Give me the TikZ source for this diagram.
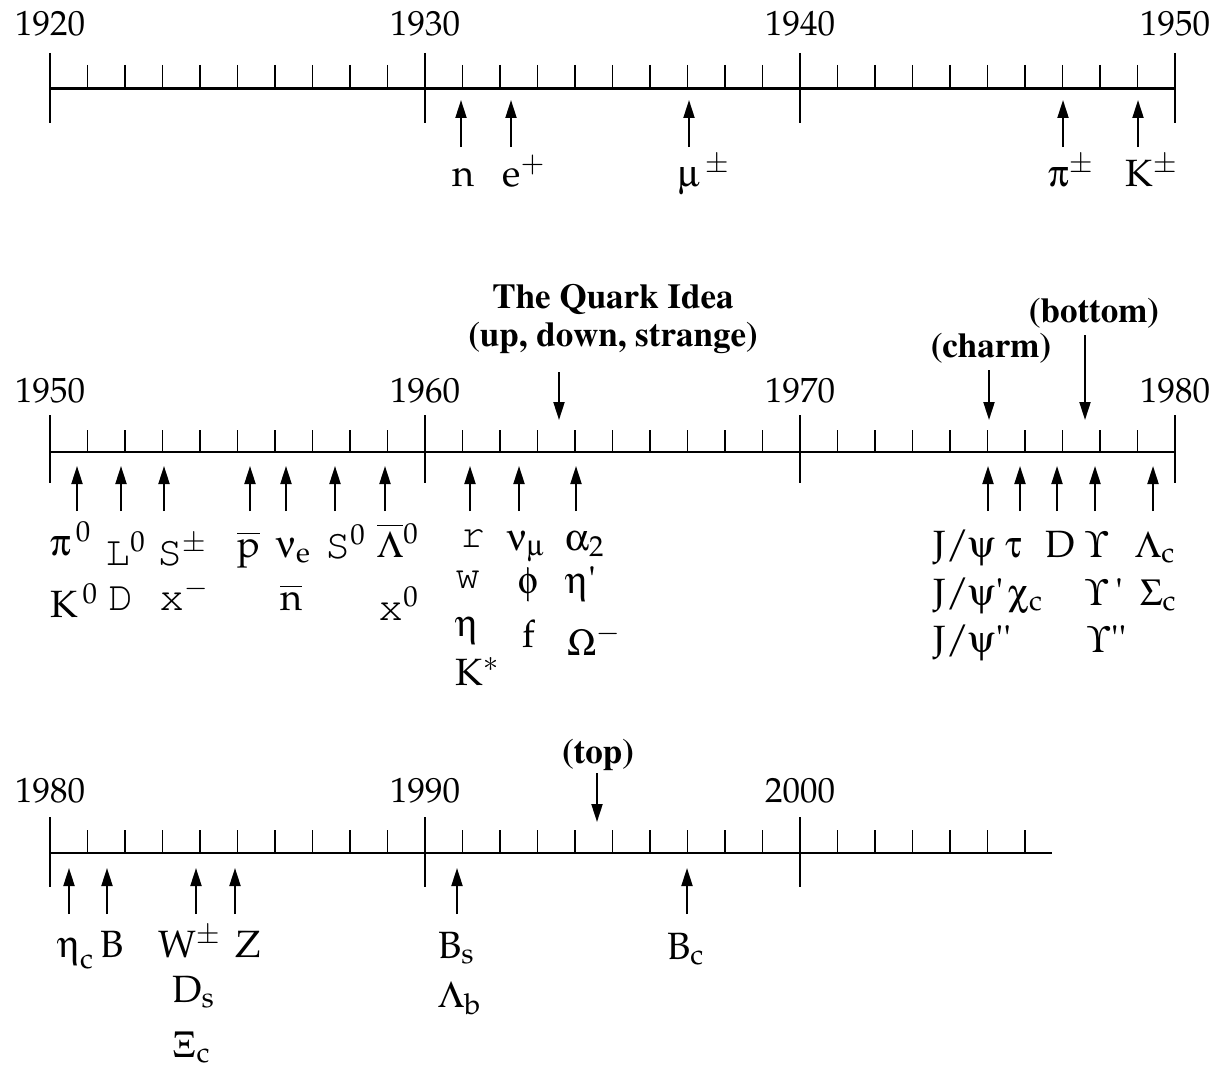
\documentclass[tikz,border=0pt]{standalone}
\usepackage[T1]{fontenc}
\usepackage{mathpazo}
\usepackage[Symbol]{upgreek}
\usepackage{tikz}
\usetikzlibrary{arrows.meta}

\newcommand{\cour}[1]{{\fontfamily{pcr}\fontsize{42}{44}\selectfont #1}}
\newcommand{\hdfont}{\fontfamily{ptm}\fontseries{b}\fontsize{35}{38}\selectfont}
\newcommand{\curlyY}{\mbox{\usefont{U}{psy}{m}{n}\char161}}
\newcommand{\tick}{\textquotesingle}

\tikzset{
  axisline/.style={line width=2.6pt},
  bigtick/.style={line width=2pt},
  smalltick/.style={line width=1.8pt},
  found/.style={-{Triangle[length=18pt,width=11pt]}, line width=2pt},
  yearlbl/.style={anchor=base, inner sep=0pt, font=\fontsize{35}{40}\selectfont},
  part/.style={anchor=base west, inner sep=0pt, font=\fontsize{38}{42}\selectfont},
  quarkhd/.style={anchor=base, inner sep=0pt, font=\hdfont},
}

\begin{document}
\begin{tikzpicture}[x=1pt, y=-1pt, line cap=butt]

    \useasboundingbox (0,0) rectangle (1214,1070);

    % ---- 1920 -- 1950 ----
    \draw[axisline] (50,88.5) -- (1175,88.5);
    \foreach \k in {1,...,29}{
        \draw[smalltick] (50+37.5*\k,65) -- (50+37.5*\k,88.5);
    }
    \foreach \x/\yr in {50/1920, 425/1930, 800/1940, 1175/1950}{
        \draw[bigtick] (\x,53) -- (\x,123);
        \node[yearlbl] (y\yr a) at (\x,36) {\yr};
    }

    % discoveries
    \foreach \x [count=\i] in {461, 511, 689, 1063, 1138}{
        \coordinate (ta\i) at (\x,147);
        \coordinate (ha\i) at (\x,100);
        \draw[found] (ta\i) -- (ha\i);
    }
    \node[part] (pn)  at (452,186)  {n};
    \node[part] (pep) at (502,186)  {e$^{+}$};
    \node[part] (pmu) at (678,186)  {$\upmu^{\,\pm}$};
    \node[part] (ppi) at (1048,186) {$\uppi^{\pm}$};
    \node[part] (pkc) at (1125,186) {K$^{\pm}$};

    % ---- 1950 -- 1980 ----
    \draw[axisline] (50,452) -- (1175,452);
    \foreach \k in {1,...,29}{
        \draw[smalltick] (50+37.5*\k,430) -- (50+37.5*\k,452);
    }
    \foreach \x/\yr in {50/1950, 425/1960, 800/1970, 1175/1980}{
        \draw[bigtick] (\x,415) -- (\x,483);
        \node[yearlbl] (y\yr b) at (\x,402) {\yr};
    }

    % quark ideas
    \node[quarkhd] (hquark) at (613,308) {The Quark Idea};
    \node[quarkhd] (huds)   at (613,346) {(up, down, strange)};
    \node[quarkhd] (hcharm) at (991,357) {(charm)};
    \node[quarkhd] (hbot)   at (1094,322) {(bottom)};
    \coordinate (tq) at (559,372);  \coordinate (hq) at (559,420);
    \coordinate (tc) at (989,370);  \coordinate (hc) at (989,420);
    \coordinate (tb) at (1085,335); \coordinate (hb) at (1085,420);
    \draw[found] (tq) -- (hq);
    \draw[found] (tc) -- (hc);
    \draw[found] (tb) -- (hb);

    % discoveries
    \foreach \x [count=\i] in {77, 121, 164, 250, 286, 335, 385, 470, 519, 576,
                               988, 1020, 1057, 1095, 1153}{
        \coordinate (tb\i) at (\x,511);
        \coordinate (hb\i) at (\x,466);
        \draw[found] (tb\i) -- (hb\i);
    }
    \node[part] (ppizero) at (50,555)   {$\uppi^{\,0}$};
    \node[part] (pkzero)  at (50,617)   {K$^{\,0}$};
    \node[part] (plzero)  at (105,565)  {\cour{L}$^{0}$};
    \node[part] (pdold)   at (108,610)  {\cour{D}};
    \node[part] (psc)     at (157,565)  {\cour{S}$^{\pm}$};
    \node[part] (pxm)     at (159,610)  {\cour{x}$^{-}$};
    \node[part] (ppbar)   at (237,557)  {$\overline{\mbox{p}}$};
    \node[part] (pnue)    at (276,557)  {$\upnu_{\mathrm{e}}$};
    \node[part] (pnbar)   at (280,610)  {$\overline{\mbox{n}}$};
    \node[part] (pszero)  at (325,558)  {\cour{S}$^{0}$};
    \node[part] (plbar)   at (377,557)  {$\overline{\Uplambda}{}^{0}$};
    \node[part] (pxzero)  at (378,620)  {\cour{x}$^{0}$};
    \node[part] (prho)    at (460,547)  {\cour{r}};
    \node[part] (pomg)    at (455,588)  {\cour{w}};
    \node[part] (peta)    at (455,636)  {$\upeta$};
    \node[part] (pkstar)  at (455,685)  {K$^{*}$};
    \node[part] (pnumu)   at (507,550)  {$\upnu_{\upmu}$};
    \node[part] (pphi)    at (518,593)  {$\upphi$};
    \node[part] (pf)      at (522,647)  {f};
    \node[part] (pa2)     at (565,550)  {$\upalpha_{2}$};
    \node[part] (petap)   at (565,593)  {$\upeta$\tick};
    \node[part] (pOmega)  at (567,655)  {$\Upomega^{-}$};
    \node[part] (pjpsi)   at (933,557)  {J/$\uppsi$};
    \node[part] (pjpsia)  at (933,605)  {J/$\uppsi$\tick};
    \node[part] (pjpsib)  at (933,652)  {J/$\uppsi$\tick\tick};
    \node[part] (ptau)    at (1005,557) {$\uptau$};
    \node[part] (pchic)   at (1008,605) {$\upchi_{\mathrm{c}}$};
    \node[part] (pd)      at (1045,557) {D};
    \node[part] (pups)    at (1085,557) {\curlyY};
    \node[part] (pupsa)   at (1085,605) {\curlyY\,\tick};
    \node[part] (pupsb)   at (1087,652) {\curlyY\tick\tick};
    \node[part] (plamc)   at (1135,557) {$\Uplambda_{\mathrm{c}}$};
    \node[part] (psigc)   at (1140,605) {$\Upsigma_{\mathrm{c}}$};

    % ---- 1980 -- 2006 ----
    \draw[axisline] (50,853) -- (1052,853);
    \foreach \k in {1,...,26}{
        \draw[smalltick] (50+37.5*\k,830) -- (50+37.5*\k,853);
    }
    \foreach \x/\yr in {50/1980, 425/1990, 800/2000}{
        \draw[bigtick] (\x,817) -- (\x,887);
        \node[yearlbl] (y\yr c) at (\x,802) {\yr};
    }

    % top quark
    \node[quarkhd] (htop) at (598,763) {(top)};
    \coordinate (tt) at (597,773);
    \coordinate (ht) at (597,822);
    \draw[found] (tt) -- (ht);

    % discoveries
    \foreach \x [count=\i] in {69, 107, 196, 235, 457, 687}{
        \coordinate (tc\i) at (\x,914);
        \coordinate (hc\i) at (\x,868);
        \draw[found] (tc\i) -- (hc\i);
    }
    \node[part] (petac) at (57,957)   {$\upeta_{\lower6pt\hbox{$\scriptstyle\mathrm{c}$}}$};
    \node[part] (pb)    at (100,957)  {B};
    \node[part] (pw)    at (158,957)  {W$^{\pm}$};
    \node[part] (pz)    at (235,957)  {Z};
    \node[part] (pds)   at (172,1002) {D$_{\mathrm{s}}$};
    \node[part] (pxic)  at (172,1057) {$\Upxi_{\mathrm{c}}$};
    \node[part] (pbs)   at (438,958)  {B$_{\mathrm{s}}$};
    \node[part] (plamb) at (438,1007) {$\Uplambda_{\mathrm{b}}$};
    \node[part] (pbc)   at (667,959)  {B$_{\mathrm{c}}$};

\end{tikzpicture}
\end{document}
